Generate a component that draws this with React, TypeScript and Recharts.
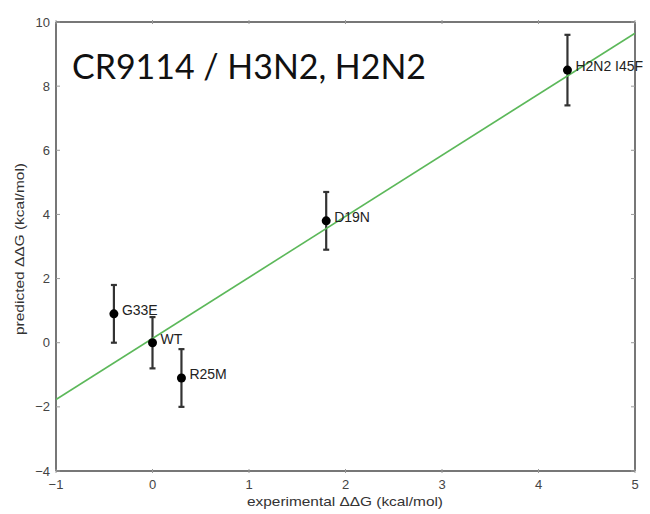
import React from 'react';
import { ComposedChart, Scatter, XAxis, YAxis, ErrorBar, LabelList } from 'recharts';

const names = ['G33E', 'WT', 'R25M', 'D19N', 'H2N2 I45F'];
const expDDG = [-0.4, 0, 0.3, 1.8, 4.3];
const predDDG = [0.9, 0, -1.1, 3.8, 8.5];
const predErr = [0.9, 0.8, 0.9, 0.9, 1.1];
const fitX = [-1, 5];
const fitY = [-1.77, 9.65];
const xTicks = [-1, 0, 1, 2, 3, 4, 5];
const yTicks = [-4, -2, 0, 2, 4, 6, 8, 10];

const points = names.map((n, i) => ({ name: n, x: expDDG[i], y: predDDG[i], err: predErr[i] }));
const fit = fitX.map((x, i) => ({ x, y: fitY[i] }));

const fmt = (v: number) => (v < 0 ? '\u2212' + Math.abs(v) : String(v));
const TICK = '#9a9a9a';
const FRAME = '#777';
const SANS = 'Liberation Sans, Arial, sans-serif';

const LeftTick = (p: any) => (
  <g>
    <text x={p.x} y={p.y} dy={4.5} textAnchor="end" fontSize={13} fill="#444" fontFamily={SANS}>{fmt(p.payload.value)}</text>
    <line x1={p.x + 6} x2={p.x + 10} y1={p.y} y2={p.y} stroke={TICK} />
  </g>
);
const RightTick = (p: any) => (
  <line x1={p.x - 6} x2={p.x - 10} y1={p.y} y2={p.y} stroke={TICK} />
);
const BottomTick = (p: any) => (
  <g>
    <text x={p.x} y={p.y} dy={10} textAnchor="middle" fontSize={13} fill="#444" fontFamily={SANS}>{fmt(p.payload.value)}</text>
    <line x1={p.x} x2={p.x} y1={p.y - 6} y2={p.y - 10} stroke={TICK} />
  </g>
);
const TopTick = (p: any) => (
  <line x1={p.x} x2={p.x} y1={p.y + 6} y2={p.y + 10} stroke={TICK} />
);

const PointLabel = (p: any) => (
  <text x={p.x + p.width / 2 + 8} y={p.y + p.height / 2 + 1} fontSize={14} fill="#222" fontFamily={SANS}>{p.value}</text>
);

export default function App() {
  return (
    <div style={{ position: 'absolute', left: 0, top: 0, width: 650, height: 514, background: '#fff' }}>
      <ComposedChart width={650} height={514} margin={{ top: 21, right: 14, bottom: 42, left: 55 }}>
        <XAxis xAxisId="b" type="number" dataKey="x" domain={[-1, 5]} ticks={xTicks} height={1} tickSize={6} tickMargin={2} tickLine={false} axisLine={{ stroke: FRAME, strokeWidth: 2 }} tick={BottomTick} allowDataOverflow />
        <XAxis xAxisId="t" orientation="top" type="number" dataKey="x" domain={[-1, 5]} ticks={xTicks} height={1} tickSize={6} tickMargin={2} tickLine={false} axisLine={{ stroke: FRAME, strokeWidth: 2 }} tick={TopTick} allowDataOverflow />
        <YAxis yAxisId="l" type="number" dataKey="y" domain={[-4, 10]} ticks={yTicks} width={1} tickSize={6} tickMargin={0} tickLine={false} axisLine={{ stroke: FRAME, strokeWidth: 2 }} tick={LeftTick} allowDataOverflow />
        <YAxis yAxisId="r" orientation="right" type="number" dataKey="y" domain={[-4, 10]} ticks={yTicks} width={1} tickSize={6} tickMargin={0} tickLine={false} axisLine={{ stroke: FRAME, strokeWidth: 2 }} tick={RightTick} allowDataOverflow />
        <Scatter xAxisId="b" yAxisId="l" data={fit} line={{ stroke: '#5cb85a', strokeWidth: 1.6 }} shape={() => null} isAnimationActive={false} />
        <Scatter xAxisId="b" yAxisId="l" data={points} isAnimationActive={false} shape={(p: any) => <circle cx={p.cx} cy={p.cy} r={4.5} fill="#000" />}>
          <ErrorBar dataKey="err" direction="y" width={3} stroke="#333" strokeWidth={2.2} />
          <LabelList dataKey="name" content={PointLabel} />
        </Scatter>
      </ComposedChart>
      <svg width={650} height={514} style={{ position: 'absolute', left: 0, top: 0, pointerEvents: 'none' }}>
        <text x={72} y={79} fontSize={35} fill="#111" fontFamily="Lato, sans-serif" textLength={354} lengthAdjust="spacingAndGlyphs">CR9114 / H3N2, H2N2</text>
        <text x={345} y={506} textAnchor="middle" fontSize={13} fill="#333" fontFamily={SANS} textLength={196} lengthAdjust="spacingAndGlyphs">experimental ΔΔG (kcal/mol)</text>
        <text x={24} y={249} textAnchor="middle" fontSize={13} fill="#333" fontFamily={SANS} transform="rotate(-90 24 249)" textLength={172} lengthAdjust="spacingAndGlyphs">predicted ΔΔG (kcal/mol)</text>
      </svg>
    </div>
  );
}
